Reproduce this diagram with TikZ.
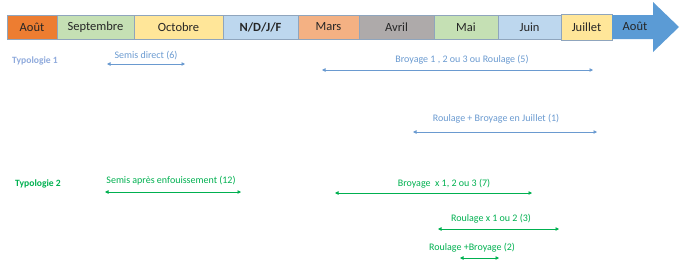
\documentclass[tikz,border=0pt]{standalone}
\usepackage{fontspec}
\setmainfont{Carlito}
\usetikzlibrary{arrows.meta}
\definecolor{cOrange}{HTML}{ED7D31}
\definecolor{cGreen}{HTML}{C5E0B4}
\definecolor{cYellow}{HTML}{FFE699}
\definecolor{cBlue}{HTML}{BDD7EE}
\definecolor{cPeach}{HTML}{F4B183}
\definecolor{cGray}{HTML}{AEAAAA}
\definecolor{cArrow}{HTML}{5B9BD5}
\definecolor{cBorder}{HTML}{8FA5BD}
\definecolor{tOne}{HTML}{8FAADC}
\definecolor{lOne}{HTML}{6A9AD0}
\definecolor{tTwo}{HTML}{00B050}
\tikzset{
  month/.style={draw=cBorder, line width=0.6pt, minimum height=24pt, inner sep=0pt,
    font=\fontsize{12.5}{14}\selectfont, text=black!85},
  lbl/.style={font=\fontsize{10}{12}\selectfont, inner sep=1pt},
  typo/.style={font=\fontsize{9.6}{11}\selectfont\bfseries, inner sep=0pt, anchor=west},
  span/.style={line width=0.7pt, {Triangle[length=3.5pt,width=3.5pt]}-{Triangle[length=3.5pt,width=3.5pt]}},
  one/.style={color=lOne},
  two/.style={color=tTwo}
}
\begin{document}
\begin{tikzpicture}[x=1pt,y=1pt]
\useasboundingbox (0,0) rectangle (685,-273);
% timeline
\node[month, fill=cOrange, minimum width=50pt] (aout1) at (32,-27) {Août};
\node[month, fill=cGreen, minimum width=77pt] (sep) at (95.5,-27) {Septembre};
\node[month, fill=cYellow, minimum width=89pt] (oct) at (178.5,-27) {Octobre};
\node[month, fill=cBlue, minimum width=75pt, font=\fontsize{12.5}{14}\selectfont\bfseries] (ndjf) at (260.5,-27) {N/D/J/F};
\node[month, fill=cPeach, minimum width=61pt] (mars) at (328.5,-27) {Mars};
\node[month, fill=cGray, minimum width=75pt] (avr) at (396.5,-27) {Avril};
\node[month, fill=cGreen, minimum width=64pt] (mai) at (466,-27) {Mai};
\node[month, fill=cBlue, minimum width=63pt] (juin) at (529.5,-27) {Juin};
\node[month, fill=cYellow, minimum width=51pt, minimum height=26pt] (juil) at (586.5,-27.5) {Juillet};
\fill[cArrow] (612,-15) -- (653,-15) -- (653,-2) -- (679,-27) -- (653,-52) -- (653,-39) -- (612,-39) -- cycle;
\node[font=\fontsize{12.5}{14}\selectfont, text=black!85, inner sep=0pt] (aout2) at (635,-26) {Août};
% Typologie 1
\node[typo, text=tOne] (ty1) at (12,-61) {Typologie 1};
\node[lbl, text=lOne] (l1) at (146,-56) {Semis direct (6)};
\coordinate (a1s) at (107,-64); \coordinate (a1e) at (185,-64);
\draw[span, one] (a1s) -- (a1e);
\node[lbl, text=lOne] (l2) at (462,-60) {Broyage 1 , 2 ou 3 ou Roulage (5)};
\coordinate (a2s) at (322,-70); \coordinate (a2e) at (593,-70);
\draw[span, one] (a2s) -- (a2e);
\node[lbl, text=lOne] (l3) at (496,-119) {Roulage + Broyage en Juillet (1)};
\coordinate (a3s) at (413,-132); \coordinate (a3e) at (597,-132);
\draw[span, one] (a3s) -- (a3e);
% Typologie 2
\node[typo, text=tTwo] (ty2) at (15,-184) {Typologie 2};
\node[lbl, text=tTwo] (l4) at (171,-181) {Semis après enfouissement (12)};
\coordinate (b1s) at (105,-192); \coordinate (b1e) at (241,-192);
\draw[span, two] (b1s) -- (b1e);
\node[lbl, text=tTwo] (l5) at (444,-184) {Broyage\ \ x 1, 2 ou 3 (7)};
\coordinate (b2s) at (335,-193); \coordinate (b2e) at (532,-193);
\draw[span, two] (b2s) -- (b2e);
\node[lbl, text=tTwo] (l6) at (491,-219) {Roulage x 1 ou 2 (3)};
\coordinate (b3s) at (438,-229); \coordinate (b3e) at (559,-229);
\draw[span, two] (b3s) -- (b3e);
\node[lbl, text=tTwo] (l7) at (472,-248) {Roulage +Broyage (2)};
\coordinate (b4s) at (460,-258); \coordinate (b4e) at (499,-258);
\draw[span, two] (b4s) -- (b4e);
\end{tikzpicture}
\end{document}
